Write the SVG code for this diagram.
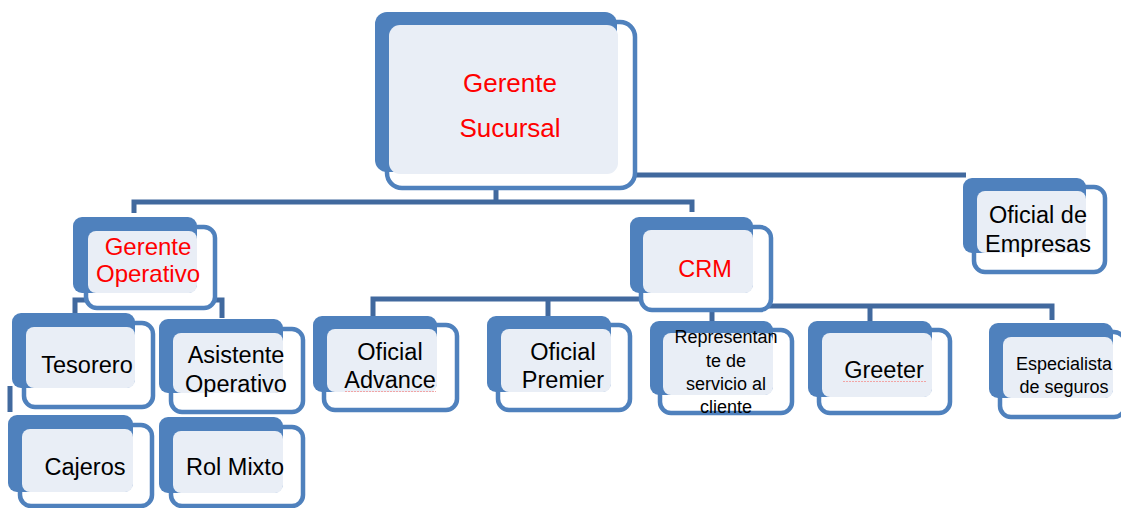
<svg xmlns="http://www.w3.org/2000/svg" width="1121" height="508" viewBox="0 0 1121 508">
<style>
.ol{fill:#ffffff;stroke:#4F81BD;stroke-width:4.5}
.bk{fill:#4F81BD}
.lt{fill:#E9EEF6}
.t{font-family:"Liberation Sans",Arial,sans-serif;font-size:23.5px;fill:#000;text-anchor:middle}
.r{fill:#FF0000}
.s{font-size:18px}
.cn{fill:none;stroke:#41699E;stroke-width:5;stroke-linejoin:miter}
.sq{stroke:#F2A5A5;stroke-width:1.2;fill:none}
</style>
<rect width="1121" height="508" fill="#ffffff"/>
<g id="connectors">
<path class="cn" d="M496,186 V202"/>
<path class="cn" d="M134,213 V202 H692 V212"/>
<path class="cn" d="M634,175 H966"/>
<path class="cn" d="M75,314 V300 H222 V318"/>
<path class="cn" d="M10,386 V412"/>
<path class="cn" d="M373,317 V299 H705 V306 H1052 V320"/>
<path class="cn" d="M548,299 V317"/>
<path class="cn" d="M712,306 V322"/>
<path class="cn" d="M870,306 V322"/>
</g>
<g id="gerente-sucursal">
<rect class="ol" x="387" y="22" width="248" height="166" rx="15"/>
<rect class="bk" x="375" y="12" width="242" height="160" rx="12"/>
<rect class="lt" x="389" y="25" width="229" height="149" rx="11"/>
<text class="t r" x="510" y="92" style="font-size:26px">Gerente</text>
<text class="t r" x="510" y="137" style="font-size:26px">Sucursal</text>
</g>
<g id="gerente-operativo">
<rect class="ol" x="86" y="227" width="129" height="81" rx="11"/>
<rect class="bk" x="73" y="217" width="124" height="76" rx="9"/>
<rect class="lt" x="88" y="231" width="109" height="62" rx="8"/>
<text class="t r" x="148" y="255" style="font-size:24px">Gerente</text>
<text class="t r" x="148" y="282" style="font-size:24px">Operativo</text>
</g>
<g id="tesorero">
<rect class="ol" x="24" y="323" width="129" height="84" rx="11"/>
<rect class="bk" x="12" y="313" width="123" height="75" rx="9"/>
<rect class="lt" x="26" y="327" width="109" height="61" rx="8"/>
<text class="t" x="87" y="373">Tesorero</text>
</g>
<g id="asistente-operativo">
<rect class="ol" x="171" y="329" width="132" height="83" rx="11"/>
<rect class="bk" x="159" y="319" width="124" height="74" rx="9"/>
<rect class="lt" x="173" y="333" width="110" height="60" rx="8"/>
<text class="t" x="236" y="363">Asistente</text>
<text class="t" x="236" y="392">Operativo</text>
</g>
<g id="cajeros">
<rect class="ol" x="20" y="425" width="132" height="81" rx="11"/>
<rect class="bk" x="8" y="415" width="125" height="77" rx="9"/>
<rect class="lt" x="22" y="429" width="111" height="63" rx="8"/>
<text class="t" x="85" y="475">Cajeros</text>
</g>
<g id="rol-mixto">
<rect class="ol" x="171" y="427" width="132" height="79" rx="11"/>
<rect class="bk" x="159" y="417" width="124" height="76" rx="9"/>
<rect class="lt" x="173" y="431" width="110" height="62" rx="8"/>
<text class="t" x="235" y="475">Rol Mixto</text>
</g>
<g id="crm">
<rect class="ol" x="641" y="227" width="130" height="83" rx="11"/>
<rect class="bk" x="630" y="217" width="123" height="76" rx="9"/>
<rect class="lt" x="643" y="230" width="110" height="63" rx="8"/>
<text class="t r" x="705" y="277">CRM</text>
</g>
<g id="oficial-advance">
<rect class="ol" x="324" y="325" width="133" height="85" rx="11"/>
<rect class="bk" x="313" y="316" width="124" height="76" rx="9"/>
<rect class="lt" x="327" y="329" width="110" height="63" rx="8"/>
<text class="t" x="390" y="360">Oficial</text>
<text class="t" x="390" y="388">Advance</text>
<path class="sq" d="M345,391.5 H436" stroke-dasharray="2,1"/>
</g>
<g id="oficial-premier">
<rect class="ol" x="498" y="325" width="132" height="85" rx="11"/>
<rect class="bk" x="487" y="316" width="124" height="76" rx="9"/>
<rect class="lt" x="501" y="329" width="110" height="63" rx="8"/>
<text class="t" x="563" y="360">Oficial</text>
<text class="t" x="563" y="388">Premier</text>
</g>
<g id="representante">
<rect class="ol" x="660" y="330" width="132" height="83" rx="11"/>
<rect class="bk" x="650" y="321" width="123" height="74" rx="9"/>
<rect class="lt" x="663" y="333" width="110" height="62" rx="8"/>
<text class="t s" x="726" y="343">Representan</text>
<text class="t s" x="726" y="367">te de</text>
<text class="t s" x="726" y="390">servicio al</text>
<text class="t s" x="726" y="413">cliente</text>
</g>
<g id="greeter">
<rect class="ol" x="819" y="330" width="131" height="83" rx="11"/>
<rect class="bk" x="808" y="321" width="124" height="76" rx="9"/>
<rect class="lt" x="822" y="333" width="110" height="64" rx="8"/>
<text class="t" x="884" y="378">Greeter</text>
<path class="sq" d="M843,381.5 H926" stroke-dasharray="2,1"/>
</g>
<g id="especialista">
<rect class="ol" x="1000" y="332" width="125" height="85" rx="11"/>
<rect class="bk" x="989" y="323" width="124" height="75" rx="9"/>
<rect class="lt" x="1003" y="337" width="110" height="61" rx="8"/>
<text class="t s" x="1064" y="370">Especialista</text>
<text class="t s" x="1064" y="393">de seguros</text>
</g>
<g id="oficial-empresas">
<rect class="ol" x="974" y="187" width="131" height="85" rx="11"/>
<rect class="bk" x="963" y="178" width="123" height="75" rx="9"/>
<rect class="lt" x="977" y="191" width="109" height="62" rx="8"/>
<text class="t" x="1038" y="223">Oficial de</text>
<text class="t" x="1038" y="252">Empresas</text>
</g>
</svg>
